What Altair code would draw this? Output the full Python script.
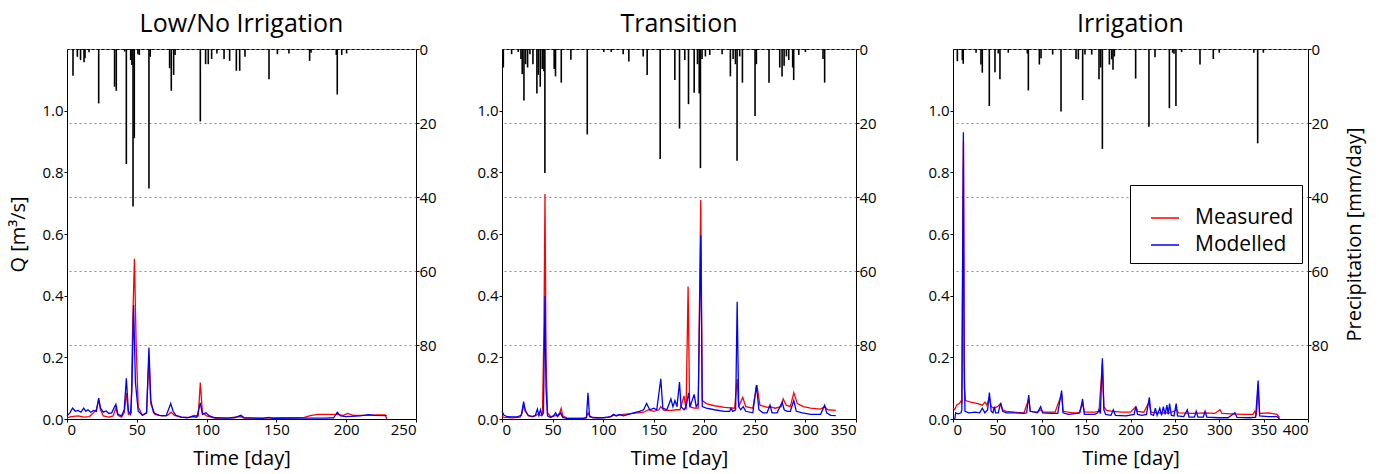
import altair as alt
import pandas as pd

FONT = "Open Sans"

TITLES = ["Low/No Irrigation", "Transition", "Irrigation"]
SERIES = ["Measured", "Modelled"]
COLORS = ["#ff0000", "#0000ff"]

# ---------------- Panel 1: Low/No Irrigation ----------------
P1_RAIN_DAY = [4.3, 7.4, 9.7, 12.2, 12.9, 15.8, 22.7, 34.1, 35.3, 41.3, 42.5, 45.6, 46.5, 47.3,
               48.2, 50.8, 51.8, 58.7, 59.6, 73.5, 74.7, 76.4, 77.4, 95.5, 99.3, 101.2, 103.6,
               107.4, 112.5, 116.5, 121.3, 123.7, 127.5, 144.7, 150.7, 159.0, 173.8, 174.8,
               192.9, 193.6, 196.8, 200.3]
P1_RAIN_MM = [7.2, 2.1, 3.0, 3.6, 2.5, 0.9, 14.7, 10.2, 11.3, 0.7, 31.1, 3.0, 4.3, 42.6,
              24.1, 1.4, 1.6, 37.7, 2.1, 5.2, 11.3, 7.0, 1.6, 19.6, 4.1, 4.1, 2.7,
              1.2, 2.7, 3.2, 5.9, 5.9, 2.1, 8.2, 1.4, 1.2, 3.2, 1.0,
              1.6, 12.3, 1.6, 1.2]
P1_MEAS_DAY = [0, 3, 8, 12, 16, 19, 21, 22.7, 24, 26, 30, 33, 35, 36.5, 39, 41, 42.5, 44, 46,
               47, 48.3, 49.5, 51, 54, 57, 58.7, 60, 63, 68, 72, 74.5, 77, 82, 88, 91, 94,
               95.5, 97, 100, 102, 106, 115, 124, 127, 140, 155, 170, 175, 180, 190, 194,
               198, 201, 205, 215, 222, 228, 229]
P1_MEAS_Q = [0.004, 0.008, 0.01, 0.006, 0.008, 0.02, 0.03, 0.062, 0.03, 0.01, 0.006, 0.01,
             0.035, 0.012, 0.006, 0.02, 0.085, 0.015, 0.02, 0.3, 0.52, 0.25, 0.04, 0.012,
             0.02, 0.2, 0.05, 0.015, 0.01, 0.012, 0.022, 0.012, 0.005, 0.006, 0.012, 0.01,
             0.118, 0.02, 0.01, 0.008, 0.003, 0.003, 0.008, 0.003, 0.003, 0.004, 0.005,
             0.012, 0.015, 0.015, 0.014, 0.012, 0.018, 0.012, 0.012, 0.013, 0.013, 0.0]
P1_MOD_DAY = [0, 2, 4, 6, 8, 10, 12, 13.5, 15, 17, 19, 21, 22.7, 24, 26, 28, 30, 32, 35,
              36.5, 39, 41, 42.5, 44, 45.5, 46.5, 47.7, 49, 51, 54, 57, 58.7, 60, 62, 66,
              71, 74.3, 76, 78, 82, 86, 90, 93, 95.5, 97, 99.5, 102, 106, 115, 120, 124.5,
              127, 140, 144.8, 147, 170, 185, 191, 193.6, 196, 200, 210, 216, 220, 229]
P1_MOD_Q = [0.01, 0.02, 0.035, 0.025, 0.028, 0.022, 0.035, 0.025, 0.03, 0.022, 0.028,
            0.025, 0.068, 0.035, 0.022, 0.026, 0.018, 0.02, 0.048, 0.015, 0.01, 0.03,
            0.132, 0.025, 0.015, 0.1, 0.37, 0.12, 0.025, 0.012, 0.02, 0.232, 0.06, 0.02,
            0.012, 0.01, 0.05, 0.025, 0.012, 0.006, 0.004, 0.008, 0.006, 0.052, 0.015,
            0.02, 0.01, 0.004, 0.003, 0.004, 0.012, 0.004, 0.002, 0.005, 0.002, 0.003,
            0.003, 0.004, 0.022, 0.01, 0.008, 0.01, 0.014, 0.012, 0.011]

# ---------------- Panel 2: Transition ----------------
P2_RAIN_DAY = [1.3, 9.5, 16.1, 18.7, 20.0, 21.7, 23.3, 25.3, 27.6, 30.6, 34.5, 35.9, 37.8,
               39.8, 41.4, 42.4, 51.6, 52.9, 58.6, 68.1, 84.3, 100.7, 108.0, 119.8, 125.4,
               139.6, 143.5, 156.4, 170.9, 175.5, 180.7, 184.4, 190.0, 193.3, 195.0, 196.2,
               197.8, 201.1, 205.4, 217.6, 225.8, 228.5, 230.8, 232.4, 235.0, 237.7, 250.2,
               251.5, 264.0, 274.6, 276.9, 278.9, 281.2, 283.5, 287.4, 288.4, 293.4, 300.0,
               317.4, 319.0]
P2_RAIN_MM = [5.0, 1.4, 0.8, 2.7, 6.8, 13.9, 4.1, 5.0, 1.4, 4.1, 12.0, 7.0, 10.2,
              5.4, 6.0, 33.5, 5.4, 7.4, 9.1, 2.9, 23.1, 0.8, 0.8, 1.4, 3.4,
              2.0, 7.0, 29.7, 8.4, 21.5, 3.0, 14.9, 11.8, 4.1, 12.0, 32.2,
              2.7, 2.0, 1.6, 1.4, 7.4, 2.7, 4.1, 30.2, 2.0, 9.1, 18.1,
              4.1, 9.1, 5.0, 7.4, 4.5, 2.0, 3.0, 5.0, 8.4, 1.6, 0.8,
              2.7, 9.1]
P2_MEAS_DAY = [0, 2, 10, 18, 20, 21.4, 23, 26, 30, 33, 35, 38, 40, 41.5, 42.5, 43.5, 45, 48,
               52, 55, 57, 58.5, 60, 64, 75, 83, 85, 87, 95, 105, 110, 115, 120, 130, 140,
               145, 150, 155, 157, 160, 168, 172, 176, 180, 182, 184, 185.5, 190, 194,
               196.5, 198, 202, 210, 220, 230, 232.5, 234, 238, 241, 248, 252, 255, 262,
               265, 270, 276, 278, 281, 285, 288.5, 292, 298, 305, 315, 319, 322, 330]
P2_MEAS_Q = [0.01, 0.005, 0.004, 0.006, 0.02, 0.045, 0.03, 0.01, 0.008, 0.01, 0.015, 0.012,
             0.015, 0.3, 0.73, 0.2, 0.02, 0.008, 0.01, 0.012, 0.02, 0.035, 0.01, 0.003,
             0.002, 0.003, 0.02, 0.006, 0.004, 0.005, 0.012, 0.012, 0.015, 0.018, 0.022,
             0.03, 0.025, 0.03, 0.04, 0.028, 0.028, 0.03, 0.03, 0.075, 0.03, 0.43, 0.04,
             0.035, 0.035, 0.71, 0.06, 0.05, 0.043, 0.038, 0.035, 0.13, 0.04, 0.07, 0.04,
             0.035, 0.11, 0.045, 0.038, 0.04, 0.035, 0.04, 0.065, 0.045, 0.04, 0.085,
             0.05, 0.04, 0.035, 0.032, 0.04, 0.03, 0.028]
P2_MOD_DAY = [0, 2, 5, 10, 15, 19, 21.4, 23, 26, 30, 33, 35, 36.5, 38, 39.5, 41, 42.5, 43.5,
              45, 48, 51, 53, 55, 58, 60, 64, 80, 83.5, 85, 86.5, 90, 100, 108, 110, 113,
              116, 120, 125, 130, 136, 140, 143, 146, 150, 153, 157, 159, 163, 167, 169,
              171, 173, 175.5, 177, 180, 182, 184.5, 186, 190, 192, 194, 196.5, 198, 202,
              210, 220, 225, 226.5, 228, 231, 232.5, 234, 236, 238.5, 241, 248, 251.5,
              254, 258, 262, 265, 267, 272, 277, 279, 282, 285, 288.5, 291, 297, 305,
              315, 319, 321, 325, 330]
P2_MOD_Q = [0.025, 0.012, 0.008, 0.007, 0.007, 0.012, 0.056, 0.025, 0.012, 0.008, 0.012,
            0.032, 0.012, 0.03, 0.012, 0.02, 0.4, 0.1, 0.01, 0.005, 0.01, 0.02, 0.008,
            0.02, 0.005, 0.002, 0.002, 0.005, 0.085, 0.01, 0.004, 0.004, 0.008, 0.015,
            0.01, 0.015, 0.01, 0.015, 0.02, 0.025, 0.03, 0.05, 0.03, 0.035, 0.03, 0.13,
            0.035, 0.03, 0.065, 0.04, 0.06, 0.04, 0.12, 0.04, 0.03, 0.04, 0.085, 0.04,
            0.08, 0.04, 0.05, 0.595, 0.04, 0.035, 0.03, 0.025, 0.025, 0.035, 0.025, 0.03,
            0.38, 0.04, 0.03, 0.04, 0.025, 0.02, 0.11, 0.03, 0.02, 0.02, 0.045, 0.02,
            0.02, 0.055, 0.03, 0.025, 0.025, 0.06, 0.025, 0.02, 0.015, 0.015, 0.045,
            0.02, 0.012, 0.011]

# ---------------- Panel 3: Irrigation ----------------
P3_RAIN_DAY = [4.9, 10.5, 11.5, 26.0, 31.5, 33.0, 40.9, 47.3, 51.0, 52.9, 62.3, 83.7, 84.9,
               97.3, 99.2, 112.3, 121.7, 138.6, 141.2, 146.1, 148.7, 156.3, 164.5, 166.4,
               168.3, 176.2, 178.8, 180.3, 181.8, 205.8, 220.8, 227.6, 243.8, 247.5, 249.0,
               251.2, 257.6, 278.3, 293.3, 300.0, 339.0, 343.3, 349.7]
P3_RAIN_MM = [3.3, 3.0, 4.0, 1.0, 4.2, 6.4, 15.4, 6.3, 1.2, 8.2, 1.0, 1.2, 11.2,
              4.2, 2.5, 1.5, 16.9, 2.7, 2.8, 13.8, 1.5, 1.5, 8.2, 5.0,
              27.0, 4.2, 2.8, 5.6, 2.0, 8.0, 21.0, 2.2, 16.0, 1.0, 1.3,
              15.4, 0.8, 4.2, 2.7, 1.0, 1.0, 25.5, 1.0]
P3_MEAS_DAY = [0, 2, 4, 7, 9, 10, 11, 11.8, 12.8, 14, 20, 28, 33, 36, 38, 41, 43, 46, 50,
               53.7, 56, 60, 70, 80, 85.3, 87, 95, 99, 102, 115, 122.4, 124, 135, 142, 146,
               148, 160, 164.5, 168.3, 170, 173, 180, 190, 200, 206, 208, 215, 221, 223,
               230, 245, 252, 254, 270, 285, 295, 300.8, 303, 320, 330, 338, 340, 342,
               343.8, 345.5, 355, 365, 368]
P3_MEAS_Q = [0.035, 0.03, 0.045, 0.05, 0.058, 0.05, 0.6, 0.9, 0.1, 0.06, 0.055, 0.05,
             0.045, 0.055, 0.045, 0.07, 0.04, 0.035, 0.04, 0.05, 0.03, 0.025, 0.022, 0.02,
             0.065, 0.025, 0.022, 0.03, 0.022, 0.022, 0.08, 0.025, 0.02, 0.02, 0.05,
             0.022, 0.022, 0.025, 0.18, 0.04, 0.028, 0.025, 0.022, 0.022, 0.04, 0.025,
             0.022, 0.055, 0.022, 0.02, 0.02, 0.03, 0.02, 0.018, 0.02, 0.018, 0.03,
             0.018, 0.016, 0.015, 0.015, 0.025, 0.015, 0.11, 0.018, 0.02, 0.015, 0.005]
P3_MOD_DAY = [0, 2, 3, 6, 9, 10, 11, 11.7, 12.5, 13.5, 18, 25, 30, 33, 36, 39, 41, 43, 45,
              46.6, 48, 51, 53.7, 56, 60, 70, 80, 83, 85.3, 87, 95, 98.8, 101, 110, 118,
              122.4, 124, 130, 140, 143, 146, 148, 160, 163, 164.5, 166, 168.3, 170, 172,
              178, 180.6, 183, 195, 204, 206, 208, 213, 218, 221.2, 223, 226, 228, 230,
              233, 235, 237, 239, 241, 242.5, 244, 246, 249, 251.5, 253, 260, 264, 266,
              272, 274, 276, 282, 284, 286, 300, 310, 317.6, 320, 335, 341, 343.8, 345.5,
              355, 365, 368]
P3_MOD_Q = [0.0, 0.0, 0.02, 0.017, 0.02, 0.03, 0.6, 0.93, 0.2, 0.025, 0.02, 0.022, 0.02,
            0.035, 0.02, 0.03, 0.086, 0.025, 0.02, 0.04, 0.02, 0.02, 0.052, 0.025, 0.02,
            0.02, 0.018, 0.02, 0.078, 0.025, 0.02, 0.04, 0.02, 0.018, 0.018, 0.092,
            0.02, 0.015, 0.018, 0.02, 0.065, 0.015, 0.015, 0.02, 0.03, 0.018, 0.197,
            0.03, 0.015, 0.012, 0.03, 0.012, 0.01, 0.015, 0.04, 0.015, 0.012, 0.015,
            0.07, 0.015, 0.012, 0.035, 0.012, 0.035, 0.012, 0.04, 0.015, 0.045, 0.015,
            0.05, 0.012, 0.01, 0.05, 0.01, 0.008, 0.03, 0.006, 0.006, 0.025, 0.006,
            0.006, 0.025, 0.006, 0.004, 0.004, 0.02, 0.005, 0.004, 0.006, 0.125, 0.01,
            0.008, 0.008, 0.0]

X_MAX = [250, 350, 400]
X_TICKS = [[0, 50, 100, 150, 200, 250],
           [0, 50, 100, 150, 200, 250, 300, 350],
           [0, 50, 100, 150, 200, 250, 300, 350, 400]]
Q_TICKS = [0.0, 0.2, 0.4, 0.6, 0.8, 1.0]
P_TICKS = [0, 20, 40, 60, 80]


def panel(i, rain_day, rain_mm, meas_day, meas_q, mod_day, mod_q, width, height,
          left_title, right_title, legend, left_extent):
    rain = pd.DataFrame({"day": rain_day, "mm": rain_mm, "zero": [0] * len(rain_day)})
    q = pd.concat([
        pd.DataFrame({"day": meas_day, "q": meas_q, "series": SERIES[0]}),
        pd.DataFrame({"day": mod_day, "q": mod_q, "series": SERIES[1]}),
    ], ignore_index=True)

    x = alt.X("day:Q",
              scale=alt.Scale(domain=[0, X_MAX[i]], nice=False, zero=False),
              axis=alt.Axis(values=X_TICKS[i], title="Time [day]", format="d",
                            grid=False, domain=False, tickSize=3, labelPadding=0,
                            titlePadding=11))

    bars = alt.Chart(rain).mark_rule(color="black", strokeWidth=1.6).encode(
        x=x,
        y=alt.Y("mm:Q",
                scale=alt.Scale(domain=[0, 100], reverse=True, nice=False),
                axis=alt.Axis(orient="right", values=P_TICKS, grid=True,
                              gridDash=[2, 3], gridColor="#8c8c8c", gridWidth=1,
                              domain=False, tickSize=3, labelPadding=0,
                              minExtent=25, maxExtent=25,
                              title=right_title, titlePadding=11,
                              titleAngle=270, titleBaseline="top")),
        y2="zero:Q",
    )

    color = alt.Color("series:N",
                      scale=alt.Scale(domain=SERIES, range=COLORS),
                      legend=legend)
    lines = alt.Chart(q).mark_line(strokeWidth=1.3).encode(
        x=alt.X("day:Q"),
        y=alt.Y("q:Q",
                scale=alt.Scale(domain=[0, 1.2], nice=False),
                axis=alt.Axis(orient="left", values=Q_TICKS, format=".1f", grid=False,
                              domain=False, tickSize=3, labelPadding=1,
                              minExtent=left_extent, maxExtent=left_extent,
                              title=left_title, titlePadding=12)),
        color=color,
        order=alt.Order("day:Q"),
    )

    return alt.layer(bars, lines).resolve_scale(y="independent").properties(
        width=width, height=height,
        title=alt.TitleParams(TITLES[i], fontSize=25, font=FONT, fontWeight="normal",
                              color="black", offset=5),
    )


legend3 = alt.Legend(title=" ", titleFontSize=8, titlePadding=2, orient="none",
                     legendX=177, legendY=136, fillColor="white", strokeColor="black",
                     padding=8, symbolType="stroke", symbolSize=784,
                     symbolStrokeWidth=1.5, symbolOffset=12, labelOffset=15,
                     labelFontSize=21, rowPadding=2, labelColor="black")

p1 = panel(0, P1_RAIN_DAY, P1_RAIN_MM, P1_MEAS_DAY, P1_MEAS_Q, P1_MOD_DAY, P1_MOD_Q,
           349, 370, "Q [m³/s]", None, None, 27)
p2 = panel(1, P2_RAIN_DAY, P2_RAIN_MM, P2_MEAS_DAY, P2_MEAS_Q, P2_MOD_DAY, P2_MOD_Q,
           354, 370, None, None, None, 27)
p3 = panel(2, P3_RAIN_DAY, P3_RAIN_MM, P3_MEAS_DAY, P3_MEAS_Q, P3_MOD_DAY, P3_MOD_Q,
           355, 370, None, "Precipitation [mm/day]", legend3, 38)

chart = alt.hconcat(p1, p2, p3, spacing=32).resolve_scale(
    color="independent", x="independent"
).properties(
    padding={"left": 7, "top": 11, "right": 5, "bottom": 5},
    background="white",
).configure_view(
    stroke="black", strokeWidth=1
).configure_axis(
    labelFont=FONT, titleFont=FONT, labelFontSize=15, titleFontSize=20,
    titleFontWeight="normal", labelColor="black", titleColor="black",
    tickColor="black"
).configure_legend(
    labelFont=FONT, titleFont=FONT
)

chart.save("out.html", embed_options={"renderer": "svg", "actions": False})
